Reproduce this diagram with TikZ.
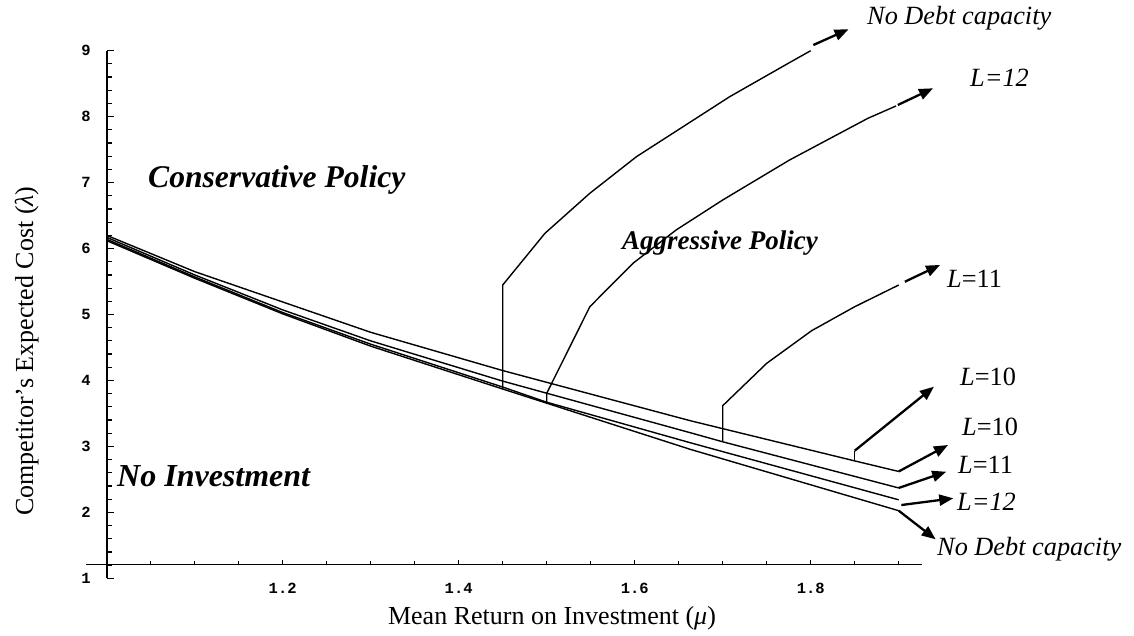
\documentclass[tikz,border=0pt]{standalone}
\usepackage{fontspec}
\setmainfont{Liberation Serif}
\newfontfamily\tickfont{Liberation Mono}
\usetikzlibrary{arrows.meta}
\begin{document}
\begin{tikzpicture}[x=1pt,y=1pt,
  curve/.style={line width=1.4pt, line join=round},
  axisline/.style={line width=1.6pt},
  tickmark/.style={line width=1.2pt},
  pointer/.style={line width=2.3pt, -{Triangle[length=14pt,width=11pt]}},
  region/.style={font=\bfseries\itshape, inner sep=0pt, anchor=base west},
  lab/.style={font=\fontsize{26.3}{27}\selectfont, inner sep=0pt, anchor=base west},
  axlab/.style={font=\fontsize{26}{26}\selectfont, inner sep=0pt, anchor=base},
  ticklab/.style={font=\tickfont\bfseries\fontsize{15.5}{16}\selectfont, inner sep=0pt}]
\useasboundingbox (0,0) rectangle (1134,635);

% text labels
\node[region, font=\fontsize{31.6}{32}\selectfont\bfseries\itshape] (cons) at (148,447) {Conservative Policy};
\node[region, font=\fontsize{27}{28}\selectfont\bfseries\itshape] (aggr) at (622,385) {Aggressive Policy};
\node[region, font=\fontsize{32}{33}\selectfont\bfseries\itshape] (noinv) at (117,148.3) {No Investment};

\node[lab] (tND) at (867,610) {\itshape No Debt capacity};
\node[lab] (tL12) at (970,548) {\itshape L=12};
\node[lab] (tL11) at (947,347) {\itshape L\upshape =11};
\node[lab] (tL10a) at (960,250) {\itshape L\upshape =10};
\node[lab] (tL10b) at (962,200) {\itshape L\upshape =10};
\node[lab] (tL11b) at (958,161.7) {\itshape L\upshape =11};
\node[lab] (tL12b) at (957,125) {\itshape L=12};
\node[lab] (bND) at (937,80) {\itshape No Debt capacity};

\node[axlab] (xlab) at (552,11) {Mean Return on Investment ({\itshape μ})};
\node[axlab, rotate=90] (ylab) at (33,284) {Competitor’s Expected Cost ({\itshape λ})};

\begin{scope}[shift={(-773.3pt,-9.25pt)}, x=880pt, y=65.95pt]
  % axes
  \draw[axisline] (0.977,1.212) -- (1.927,1.212);
  \draw[axisline] (1,1) -- (1,9);
  \foreach \i in {0,...,40}{
    \pgfmathsetmacro\v{1+0.2*\i}
    \pgfmathtruncatemacro\m{mod(\i,5)}
    \ifnum\m=0
      \draw[tickmark] (1,\v) -- ++(7pt,0);
    \else
      \draw[tickmark] (1,\v) -- ++(5pt,0);
    \fi
  }
  \foreach \i in {1,...,18}{
    \pgfmathsetmacro\u{1+0.05*\i}
    \pgfmathtruncatemacro\m{mod(\i,4)}
    \ifnum\m=0
      \draw[tickmark] (\u,1.212) -- ++(0,4.5pt);
    \else
      \draw[tickmark] (\u,1.212) -- ++(0,3pt);
    \fi
  }
  \foreach \v in {1,...,9}
    \node[ticklab] (ty\v) at (1,\v) [xshift=-20.7pt] {\v};
  \foreach \u/\n in {1.2/a,1.4/b,1.6/c,1.8/d}
    \node[ticklab] (tx\n) at (\u,1.212) [yshift=-23.7pt] {\u};

  % lower boundary curves
  \draw[curve] (1,6.2) -- (1.1,5.65) -- (1.2,5.19) -- (1.3,4.73) -- (1.45,4.15)
     -- (1.663,3.39) -- (1.85,2.78) -- (1.9,2.62) coordinate (e10);
  \draw[curve] (1,6.17) -- (1.1,5.6) -- (1.2,5.07) -- (1.3,4.6) -- (1.45,3.99)
     -- (1.663,3.208) -- (1.7,3.07) -- (1.9,2.37) coordinate (e11);
  \draw[curve] (1,6.14) -- (1.1,5.57) -- (1.2,5.03) -- (1.3,4.55) -- (1.45,3.9)
     -- (1.5,3.67) -- (1.663,3.056) -- (1.9,2.19) coordinate (e12);
  \draw[curve] (1,6.12) -- (1.1,5.55) -- (1.2,5.01) -- (1.3,4.52) -- (1.45,3.87)
     -- (1.663,2.956) -- (1.9,2.025) coordinate (eND);

  % upper branches
  \draw[curve] (1.45,3.87) -- (1.45,5.447) -- (1.498,6.231) -- (1.549,6.838)
     -- (1.602,7.393) -- (1.655,7.848) -- (1.708,8.303) -- (1.776,8.82) -- (1.8,9.0);
  \draw[curve] (1.5,3.67) -- (1.5,3.805) -- (1.549,5.118) -- (1.598,5.776)
     -- (1.647,6.281) -- (1.7,6.736) -- (1.776,7.343) -- (1.865,7.975) -- (1.897,8.162);
  \draw[curve] (1.7,3.07) -- (1.7,3.617) -- (1.75,4.26) -- (1.801,4.754)
     -- (1.85,5.118) -- (1.9,5.447);
  \draw[curve] (1.85,2.78) -- (1.85,2.935) coordinate (s10);

  % arrow end points
  \coordinate (sND) at (1.803,9.086);
  \coordinate (hND) at (1.843,9.325);
  \coordinate (s12) at (1.899,8.177);
  \coordinate (h12) at (1.939,8.43);
  \coordinate (s11) at (1.907,5.497);
  \coordinate (h11) at (1.947,5.751);
  \coordinate (h10) at (1.94,3.905);
  \coordinate (h10b) at (1.956,3.021);
  \coordinate (h11b) at (1.954,2.616);
  \coordinate (s12b) at (1.903,2.111);
  \coordinate (h12b) at (1.962,2.213);
  \coordinate (hNDb) at (1.942,1.591);
\end{scope}

\draw[pointer] (sND) -- (hND);
\draw[pointer] (s12) -- (h12);
\draw[pointer] (s11) -- (h11);
\draw[pointer] (s10) -- (h10);
\draw[pointer] (e10) -- (h10b);
\draw[pointer] (e11) -- (h11b);
\draw[pointer] (s12b) -- (h12b);
\draw[pointer] (eND) -- (hNDb);
\end{tikzpicture}
\end{document}
